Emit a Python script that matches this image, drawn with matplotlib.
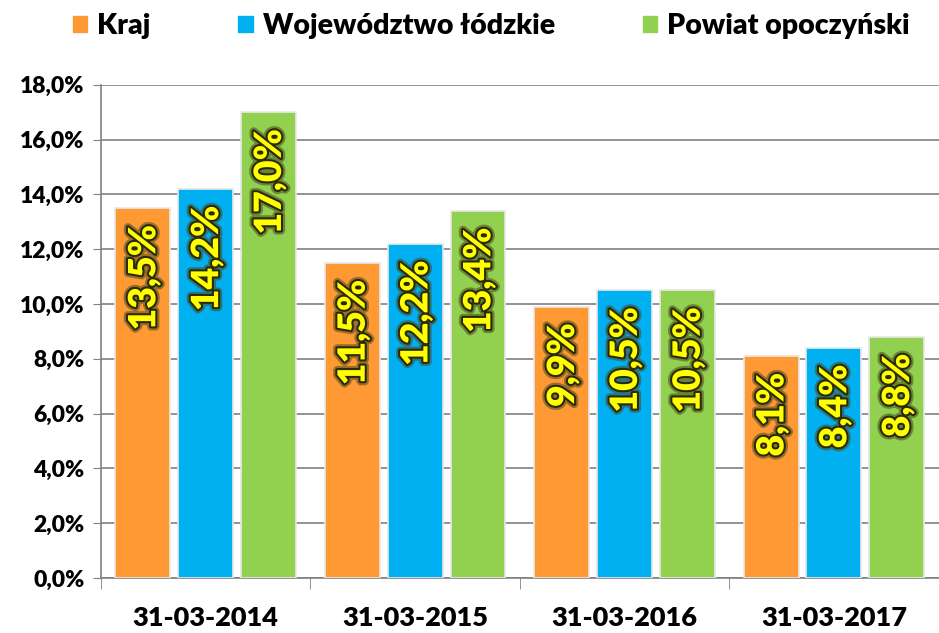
import numpy as np
import matplotlib
matplotlib.use("Agg")
import matplotlib.pyplot as plt
import matplotlib.patheffects as pe
from matplotlib.patches import Patch

plt.rcParams['font.family'] = ['Lato', 'DejaVu Sans']
plt.rcParams['font.weight'] = 'heavy'

dates = ["31-03-2014", "31-03-2015", "31-03-2016", "31-03-2017"]
series_names = ["Kraj", "Województwo łódzkie", "Powiat opoczyński"]
kraj = [13.5, 11.5, 9.9, 8.1]
lodzkie = [14.2, 12.2, 10.5, 8.4]
opoczynski = [17.0, 13.4, 10.5, 8.8]
colors = ["#FF9933", "#00B0F0", "#92D050"]

fig = plt.figure(figsize=(9.39, 6.33), dpi=100)
ax = fig.add_axes([0.1076, 0.087, 0.892, 0.779])

x = np.arange(len(dates))
w = 0.262
step = 0.30
for i, (vals, col) in enumerate(zip([kraj, lodzkie, opoczynski], colors)):
    pos = x + (i - 1) * step
    ax.bar(pos, vals, width=w, color=col, edgecolor="#e8e8e8", linewidth=1.2, zorder=3)
    for p, v in zip(pos, vals):
        ax.annotate(f"{v:.1f}%".replace(".", ","), (p, v), xytext=(1, -12),
                    textcoords="offset points", rotation=90, ha="center", va="top",
                    fontsize=27, fontweight="heavy", color="#FFFF00", zorder=4,
                    path_effects=[pe.withStroke(linewidth=6, foreground="#4a4a20", alpha=0.55),
                                  pe.withStroke(linewidth=3, foreground="#2a2a0a")])

ax.set_ylim(0, 18)
ax.set_xlim(-0.5, 3.48)
ax.set_yticks(np.arange(0, 18.1, 2))
ax.set_yticklabels([f"{t:.1f}%".replace(".", ",") for t in np.arange(0, 18.1, 2)],
                   fontsize=16.5, fontweight="heavy")
ax.set_xticks(x)
ax.set_xticklabels(dates, fontsize=19.5, fontweight="heavy")
ax.set_xticks(np.arange(-0.5, 4, 1), minor=True)
ax.tick_params(axis="x", which="major", length=0, pad=20)
ax.tick_params(axis="x", which="minor", length=8, color="#808080")
ax.tick_params(axis="y", length=6, color="#808080", pad=6)
ax.grid(axis="y", color="#808080", linewidth=1.2, zorder=0)
for s in ["top", "right"]:
    ax.spines[s].set_visible(False)
for s in ["left", "bottom"]:
    ax.spines[s].set_color("#808080")
    ax.spines[s].set_linewidth(1.2)

handles = [Patch(color=c, label=n) for c, n in zip(colors, series_names)]
fig.legend(handles=handles, loc="upper left", bbox_to_anchor=(0.05, 1.02), ncol=3,
           frameon=False, handlelength=0.5, handleheight=0.5,
           handletextpad=0.35, columnspacing=3.1,
           prop={"weight": "heavy", "size": 20.5})

fig.savefig("out.png", dpi=100)
